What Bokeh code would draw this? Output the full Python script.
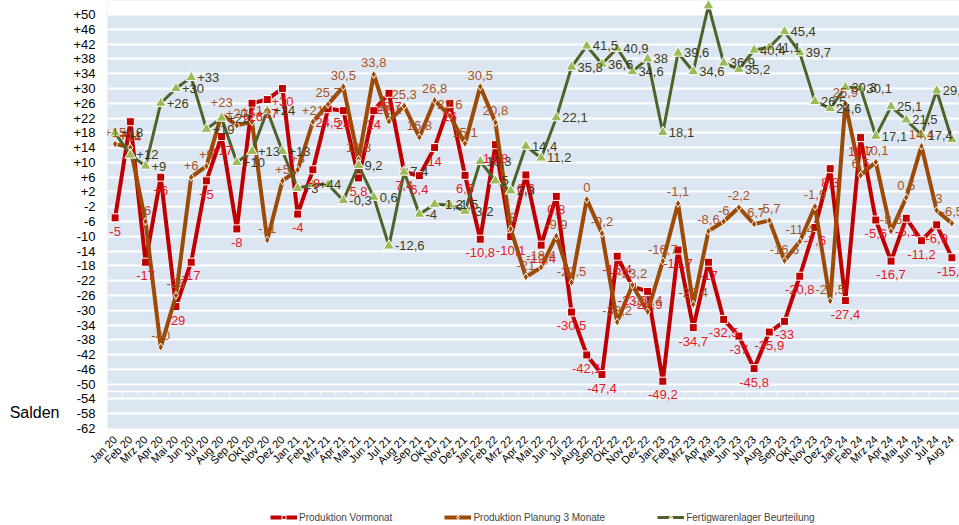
from bokeh.plotting import figure
from bokeh.layouts import column
from bokeh.models import (ColumnDataSource, FixedTicker, Span, Legend, LegendItem,
                          Range1d, LabelSet, BoxAnnotation, LinearAxis)
from bokeh.embed import file_html
from bokeh.resources import INLINE
from bokeh.core.properties import value

months = ["Jan 20", "Feb 20", "Mrz 20", "Apr 20", "Mai 20", "Jun 20", "Jul 20", "Aug 20", "Sep 20", "Okt 20", "Nov 20", "Dez 20",
          "Jan 21", "Feb 21", "Mrz 21", "Apr 21", "Mai 21", "Jun 21", "Jul 21", "Aug 21", "Sep 21", "Okt 21", "Nov 21", "Dez 21",
          "Jan 22", "Feb 22", "Mrz 22", "Apr 22", "Mai 22", "Jun 22", "Jul 22", "Aug 22", "Sep 22", "Okt 22", "Nov 22", "Dez 22",
          "Jan 23", "Feb 23", "Mrz 23", "Apr 23", "Mai 23", "Jun 23", "Jul 23", "Aug 23", "Sep 23", "Okt 23", "Nov 23", "Dez 23",
          "Jan 24", "Feb 24", "Mrz 24", "Apr 24", "Mai 24", "Jun 24", "Jul 24", "Aug 24"]

produktion_vormonat = [-5, 21, -17, 6, -29, -17, 5, 17, -8, 26, 27, 30,
                       -4, 8, 24.5, 24, 5.8, 24, 28.7, 7.4, 6.4, 14, 26, 6.5,
                       -10.8, 14.8, -10.1, 6.6, -12.4, 0.8, -30.5, -42.1, -47.4, -15.4, -23.6, -24.9,
                       -49.2, -13.7, -34.7, -17, -32.5, -37, -45.8, -35.9, -33, -20.8, -7.6, 8.3,
                       -27.4, 16.7, -5.6, -16.7, -5.1, -11.2, -6.9, -15.8]

produktion_planung = [15, 14, -6, -40, -26, 6, 9, 23, 20, 21, -11, 5,
                      8, 21, 25.7, 30.5, 10.8, 33.8, 21.1, 25.3, 16.8, 26.8, 22.6, 15.1,
                      30.5, 20.8, -8, -21, -18.4, -9.9, -22.5, 0, -9.2, -33.2, -23.2, -30.4,
                      -16.7, -1.1, -28.4, -8.6, -6, -2.2, -6.7, -5.7, -16.6, -11.4, -1.9, -27.5,
                      25.9, 6.5, 10.1, -8.6, 0.5, 14.4, -3, -6.5]

fertigwarenlager = [18, 12, 9, 26, 30, 33, 19, 22, 10, 13, 24, 13,
                    3, 4, 4, -0.3, 9.2, 0.6, -12.6, 7.4, -4, -1.3, -1.5, -3.2,
                    10.3, 5, 2.3, 14.4, 11.2, 22.1, 35.8, 41.5, 36.6, 40.9, 34.6, 38,
                    18.1, 39.6, 34.6, 52.4, 36.9, 35.2, 40.4, 41.1, 45.4, 39.7, 26.5, 24.6,
                    30.3, 30.1, 17.1, 25.1, 21.5, 17.4, 29.4, 16.2]

series_names = ["Produktion Vormonat", "Produktion Planung 3 Monate", "Fertigwarenlager Beurteilung"]

y_ticks = [-62, -58, -54, -50, -46, -42, -38, -34, -30, -26, -22, -18, -14, -10, -6, -2,
           2, 6, 10, 14, 18, 22, 26, 30, 34, 38, 42, 46, 50]

y_title = "Salden"
y_title_pos = -57.6

FONT = "Liberation Sans"
n_plus = 14  # first months labelled as signed integers
y_top = 50


def fmt(v, i):
    if v > y_top:
        return ""
    if i < n_plus:
        return f"{v:+.0f}"
    if float(v).is_integer():
        return str(int(v))
    return f"{v:.1f}".replace(".", ",")


xs = list(range(len(months)))

p = figure(width=959, height=500, output_backend="svg", toolbar_location=None,
           x_range=Range1d(-0.5, len(months) - 0.5), y_range=Range1d(-62, 53.8),
           min_border_left=107, min_border_right=0, min_border_top=0, min_border_bottom=72,
           background_fill_color="#DCE6F2", border_fill_color="white", outline_line_color=None)

p.add_layout(BoxAnnotation(bottom=y_top, fill_color="white", fill_alpha=1, line_color=None, level="underlay"))

p.xgrid.grid_line_color = None
p.ygrid.ticker = FixedTicker(ticks=y_ticks)
p.ygrid.grid_line_color = "white"
p.ygrid.grid_line_width = 2

p.yaxis.ticker = FixedTicker(ticks=y_ticks)
p.yaxis.major_label_overrides = {t: (f"+{t}" if t > 0 else str(t)) for t in y_ticks}
p.yaxis.axis_line_color = None
p.yaxis.major_tick_line_color = None
p.yaxis.minor_tick_line_color = None
p.yaxis.major_label_text_font = FONT
p.yaxis.major_label_text_font_size = "13px"
p.yaxis.major_label_text_color = "black"
p.yaxis.major_label_standoff = 6

# outer left axis carrying the horizontal "Salden" caption
ax2 = LinearAxis(ticker=FixedTicker(ticks=[y_title_pos]), major_label_overrides={y_title_pos: y_title},
                 axis_line_color=None, major_tick_line_color=None, minor_tick_line_color=None,
                 major_label_text_font=FONT, major_label_text_font_size="16px",
                 major_label_text_color="black", major_label_standoff=5,
                 axis_label=" ", axis_label_text_font_size="1px", axis_label_standoff=2)
p.add_layout(ax2, "left")

p.xaxis.ticker = FixedTicker(ticks=xs)
p.xaxis.major_label_overrides = {i: m for i, m in enumerate(months)}
p.xaxis.major_label_orientation = 0.785
p.xaxis.axis_line_color = None
p.xaxis.major_tick_line_color = None
p.xaxis.minor_tick_line_color = None
p.xaxis.major_label_text_font = FONT
p.xaxis.major_label_text_font_size = "11px"
p.xaxis.major_label_text_color = "black"
p.xaxis.major_label_standoff = 3

# category axis line crossing at -52
p.add_layout(Span(location=-52, dimension="width", line_color="white", line_width=1.5))
p.segment(x0=[i + 0.5 for i in xs[:-1]], y0=-52, x1=[i + 0.5 for i in xs[:-1]], y1=-52.9,
          line_color="white", line_width=1)

styles = [
    dict(line="#C00000", marker="square", size=8, fill="#C00000", width=4,
         lab="#E8171F", xo=0, yo=-9, align="center", base="top"),
    dict(line="#9C4A06", marker="diamond", size=8, fill="#9C4A06", width=4,
         lab="#A9541F", xo=0, yo=7, align="center", base="bottom"),
    dict(line="#4F6228", marker="triangle", size=11, fill="#9BBB59", width=3,
         lab="#3C3C20", xo=6, yo=0, align="left", base="middle"),
]

# separate strip for the legend
q = figure(width=959, height=25, output_backend="svg", toolbar_location=None,
           x_range=Range1d(0, 1), y_range=Range1d(0, 1), x_axis_location=None, y_axis_location=None,
           min_border_left=0, min_border_right=0, min_border_top=0, min_border_bottom=0,
           outline_line_color=None, background_fill_color="white", border_fill_color="white")
q.xgrid.grid_line_color = None
q.ygrid.grid_line_color = None

items = []
for name, vals, st in zip(series_names, [produktion_vormonat, produktion_planung, fertigwarenlager], styles):
    src = ColumnDataSource(dict(x=xs, y=vals, t=[fmt(v, i) for i, v in enumerate(vals)]))
    p.line("x", "y", source=src, line_color=st["line"], line_width=st["width"])
    p.scatter("x", "y", source=src, marker=st["marker"], size=st["size"],
              fill_color=st["fill"], line_color="white", line_width=1)
    p.add_layout(LabelSet(x="x", y="y", text="t", source=src, x_offset=st["xo"], y_offset=st["yo"],
                          text_align=st["align"], text_baseline=st["base"], text_color=st["lab"],
                          text_font=value(FONT), text_font_size="13px"))
    # legend proxies kept outside the strip's visible range
    l1 = q.line([-5, -4], [-5, -4], line_color=st["line"], line_width=st["width"])
    l2 = q.scatter([-5], [-5], marker=st["marker"], size=st["size"] - 2,
                   fill_color=st["fill"], line_color="white", line_width=1)
    items.append(LegendItem(label=name, renderers=[l1, l2]))

legend = Legend(items=items, orientation="horizontal", location=(163, 2),
                background_fill_alpha=0, border_line_alpha=0, padding=0, margin=0,
                spacing=52, glyph_width=27, glyph_height=10, label_standoff=2,
                label_text_font=FONT, label_text_font_size="10px", label_height=12)
q.add_layout(legend, "center")

layout = column(p, q, spacing=0)
open("out.html", "w").write(file_html(layout, INLINE))
